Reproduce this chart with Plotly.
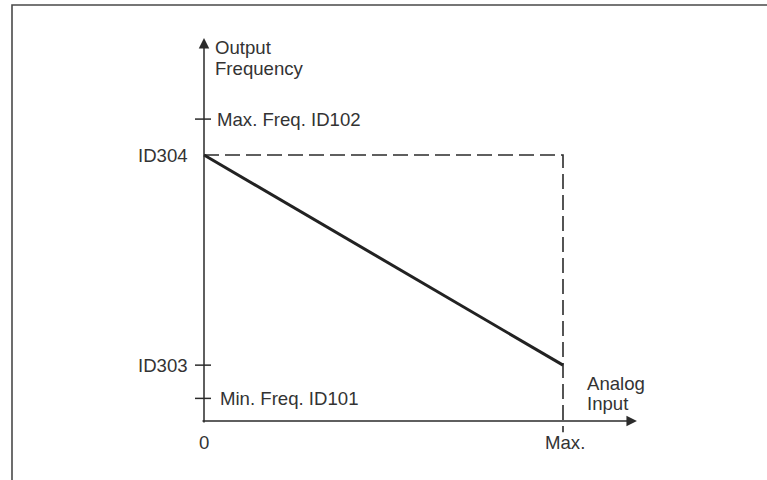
import plotly.graph_objects as go

# ---- data (input as fraction of Max., output frequency in relative units) ----
input_points = [0.0, 1.0]                 # 0 .. Max.
output_freq = [100.0, 21.0]               # ID304 at 0 input, ID303 at Max. input
left_labels = ["ID304", "ID303"]
left_values = [100.0, 21.0]
right_labels = ["Max. Freq. ID102", "Min. Freq. ID101"]
right_values = [113.5, 8.5]
x_tick_labels = ["0", "Max."]
x_tick_values = [0.0, 1.0]
y_title_lines = ["Output", "Frequency"]
x_title_lines = ["Analog", "Input"]
y_axis_top = 144.0
x_axis_end = 1.206

# ---- geometry of the canvas ----
W, H = 767, 480
X0_PX, X1_PX = 204, 563      # pixel of input 0 and input Max.
Y0_PX, YS = 421, 2.66        # pixel of freq 0, pixels per unit
xs = X1_PX - X0_PX
x_range = [-X0_PX / xs, (W - X0_PX) / xs]
y_range = [-(H - Y0_PX) / YS, Y0_PX / YS]
px_x = 1.0 / xs
px_y = 1.0 / YS

INK = "#2b2b2b"
FONT = dict(family="Liberation Sans, Arial, sans-serif", size=18.6, color="#333333")
right_shifts = [11, 14]

fig = go.Figure()

# reference dashed lines
fig.add_trace(go.Scatter(
    x=[input_points[0], input_points[1], input_points[1]],
    y=[output_freq[0], output_freq[0], -4.2],
    mode="lines", line=dict(color=INK, width=1.6, dash="15px,6px"),
    hoverinfo="skip", showlegend=False))

# the characteristic line
fig.add_trace(go.Scatter(
    x=input_points, y=output_freq, mode="lines",
    line=dict(color="#222222", width=3), hoverinfo="skip", showlegend=False))

# tick marks on y axis
tx = []
ty = []
for v in right_values + [left_values[1]]:
    tx += [-9 * px_x, 7 * px_x, None]
    ty += [v, v, None]
fig.add_trace(go.Scatter(x=tx, y=ty, mode="lines",
                         line=dict(color=INK, width=1.5),
                         hoverinfo="skip", showlegend=False))

annotations = []
# axes with arrowheads
annotations.append(dict(x=0, y=y_axis_top, ax=0, ay=-3 * px_y,
                        xref="x", yref="y", axref="x", ayref="y",
                        showarrow=True, arrowhead=2, arrowsize=1.4,
                        arrowwidth=1.5, arrowcolor=INK, text=""))
annotations.append(dict(x=x_axis_end, y=0, ax=-3 * px_x, ay=0,
                        xref="x", yref="y", axref="x", ayref="y",
                        showarrow=True, arrowhead=2, arrowsize=1.4,
                        arrowwidth=1.5, arrowcolor=INK, text=""))

for lab, v in zip(left_labels, left_values):
    annotations.append(dict(x=0, y=v, text=lab, showarrow=False,
                            xanchor="right", yanchor="middle",
                            xshift=-14, font=FONT))
for lab, v, s in zip(right_labels, right_values, right_shifts):
    annotations.append(dict(x=0, y=v, text=lab, showarrow=False,
                            xanchor="left", yanchor="middle",
                            xshift=s, font=FONT))
for lab, v in zip(x_tick_labels, x_tick_values):
    annotations.append(dict(x=v, y=0, text=lab, showarrow=False,
                            xanchor="center", yanchor="middle",
                            yshift=-21, xshift=2 * v, font=FONT))
for i, line in enumerate(y_title_lines):
    annotations.append(dict(x=0, y=y_axis_top, text=line, showarrow=False,
                            xanchor="left", yanchor="middle",
                            xshift=9, yshift=-10 - 20.5 * i, font=FONT))
for i, line in enumerate(x_title_lines):
    annotations.append(dict(x=x_tick_values[1], y=0, text=line, showarrow=False,
                            xanchor="left", yanchor="middle",
                            xshift=22, yshift=38 - 20.5 * i, font=FONT))

fig.update_layout(
    width=W, height=H,
    margin=dict(l=0, r=0, t=0, b=0),
    paper_bgcolor="white", plot_bgcolor="white",
    xaxis=dict(range=x_range, visible=False, fixedrange=True),
    yaxis=dict(range=y_range, visible=False, fixedrange=True),
    annotations=annotations,
    shapes=[dict(type="rect", xref="paper", yref="paper",
                 x0=12 / W, x1=1.02, y0=-0.02, y1=(H - 5) / H,
                 line=dict(color="#4a4a4a", width=1.6))],
    showlegend=False,
)

fig.write_html("out.html",
               config={"displayModeBar": False, "staticPlot": True},
               post_script="document.body.style.margin='0';"
                           "document.body.style.overflow='hidden';")
